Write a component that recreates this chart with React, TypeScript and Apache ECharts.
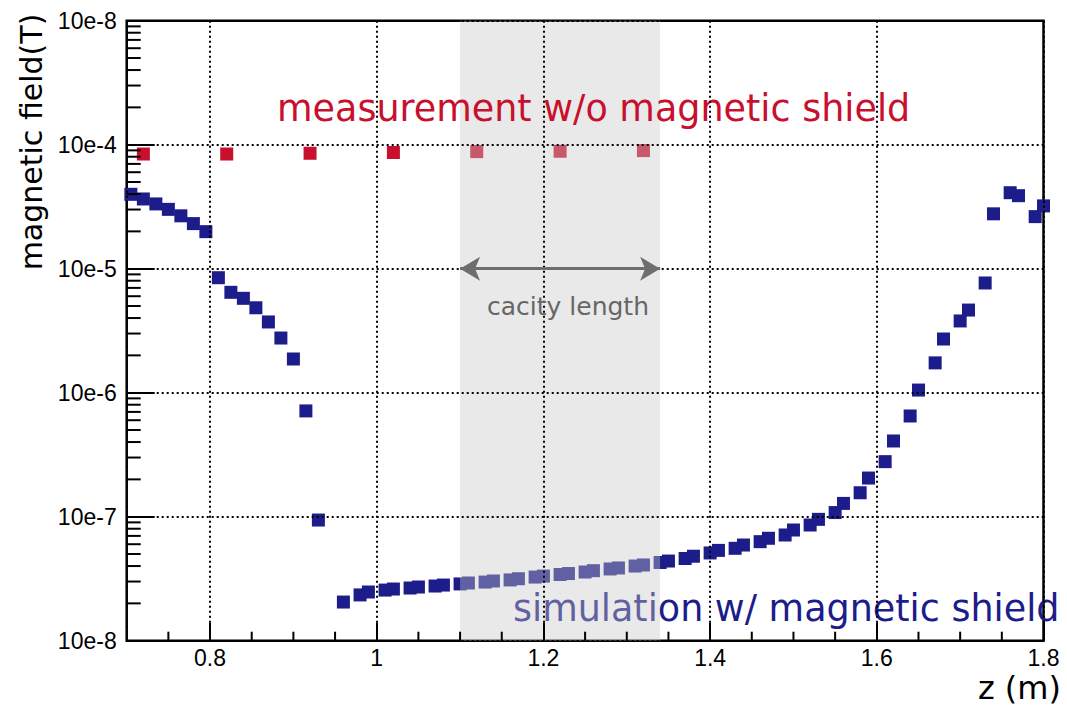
import { useEffect, useRef } from "react";
import * as echarts from "echarts";

// Measured field without shield (z in m, B in T)
const measZ = [0.72, 0.82, 0.92, 1.02, 1.12, 1.22, 1.32];
const measB = [8.41e-5, 8.41e-5, 8.53e-5, 8.65e-5, 8.79e-5, 8.85e-5, 8.96e-5];

// Simulated field with magnetic shield
const simZ = [
  0.705, 0.72, 0.735, 0.75, 0.765, 0.78, 0.795, 0.81, 0.825, 0.84, 0.855, 0.87,
  0.885, 0.9, 0.915, 0.93,
  0.96, 0.98, 0.99, 1.01, 1.02, 1.04, 1.05, 1.07, 1.08, 1.1, 1.11, 1.13, 1.14,
  1.16, 1.17, 1.19, 1.2, 1.22, 1.23, 1.25, 1.26, 1.28, 1.29, 1.31, 1.32, 1.34,
  1.35, 1.37, 1.38, 1.4, 1.41, 1.43, 1.44, 1.46, 1.47, 1.49, 1.5, 1.52, 1.53,
  1.55, 1.56, 1.58, 1.59, 1.61, 1.62, 1.64, 1.65, 1.67, 1.68, 1.7, 1.71, 1.73,
  1.74, 1.76, 1.77, 1.79, 1.8,
];
const simB = [
  3.98e-5, 3.65e-5, 3.33e-5, 3.01e-5, 2.67e-5, 2.31e-5, 1.99e-5, 8.46e-6,
  6.45e-6, 5.77e-6, 4.84e-6, 3.72e-6, 2.76e-6, 1.87e-6, 7.13e-7, 9.4e-8,
  2.05e-8, 2.34e-8, 2.47e-8, 2.56e-8, 2.61e-8, 2.66e-8, 2.71e-8, 2.76e-8,
  2.81e-8, 2.87e-8, 2.92e-8, 2.97e-8, 3.03e-8, 3.09e-8, 3.16e-8, 3.26e-8,
  3.32e-8, 3.42e-8, 3.48e-8, 3.58e-8, 3.67e-8, 3.79e-8, 3.86e-8, 4.0e-8,
  4.08e-8, 4.27e-8, 4.39e-8, 4.6e-8, 4.8e-8, 5.1e-8, 5.35e-8, 5.56e-8,
  5.91e-8, 6.29e-8, 6.7e-8, 7.12e-8, 7.81e-8, 8.57e-8, 9.52e-8, 1.08e-7,
  1.28e-7, 1.56e-7, 2.05e-7, 2.78e-7, 4.08e-7, 6.49e-7, 1.05e-6, 1.74e-6,
  2.71e-6, 3.79e-6, 4.64e-6, 7.67e-6, 2.77e-5, 4.1e-5, 3.88e-5, 2.63e-5,
  3.21e-5,
];

// Cavity extent along z
const cavityRange = [1.1, 1.34];

// Axis tick labels and minor tick positions
const yTickLabels = ["10e-8", "10e-7", "10e-6", "10e-5", "10e-4", "10e-8"];
const xMinorTicks = [
  0.75, 0.85, 0.9, 0.95, 1.05, 1.1, 1.15, 1.25, 1.3, 1.35, 1.45, 1.5, 1.55,
  1.65, 1.7, 1.75,
];
const yMinorMantissas = [2, 3, 4, 5, 6, 7, 8, 9];
const yDecades = [-8, -7, -6, -5, -4];

const X_MIN = 0.7;
const X_MAX = 1.8;
const Y_MIN = 1e-8;
const Y_MAX = 1e-3;

const BLUE = "#1c1c8a";
const RED = "#c8102e";
const SANS = "DejaVu Sans";
const TICK_FONT = "Liberation Sans";
const DOTTED = { color: "#000", width: 2, type: [2, 3] };

export default function App() {
  const ref = useRef<HTMLDivElement>(null);

  useEffect(() => {
    if (!ref.current) return;
    const chart = echarts.init(ref.current, null, { renderer: "svg" });

    const yMinorValues: number[][] = [];
    yDecades.forEach((d) =>
      yMinorMantissas.forEach((m) => yMinorValues.push([X_MIN, m * Math.pow(10, d)]))
    );

    const option: any = {
      animation: false,
      grid: {
        left: 126.7,
        right: 23.5,
        top: 20.7,
        bottom: 70.3,
        show: true,
        borderColor: "#000",
        borderWidth: 2.5,
        backgroundColor: "transparent",
      },
      xAxis: {
        type: "value",
        min: X_MIN,
        max: X_MAX,
        z: 3.5,
        axisLine: { show: false },
        axisTick: { inside: true, length: 18, lineStyle: { color: "#000", width: 2 } },
        axisLabel: {
          showMinLabel: false,
          color: "#000",
          fontSize: 23,
          fontFamily: TICK_FONT,
          margin: 6,
        },
        splitLine: { show: true, lineStyle: DOTTED },
      },
      yAxis: {
        type: "log",
        logBase: 10,
        min: Y_MIN,
        max: Y_MAX,
        z: 3.5,
        axisLine: { show: false },
        axisTick: { inside: true, length: 28, lineStyle: { color: "#000", width: 2 } },
        axisLabel: {
          color: "#000",
          fontSize: 23,
          fontFamily: TICK_FONT,
          margin: 10,
          formatter: (v: number) => yTickLabels[Math.round(Math.log10(v)) + 8] ?? "",
        },
        splitLine: { show: true, lineStyle: DOTTED },
      },
      series: [
        {
          name: "simulation",
          type: "scatter",
          symbol: "rect",
          symbolSize: 13,
          z: 2,
          silent: true,
          itemStyle: { color: BLUE, opacity: 1 },
          data: simZ.map((z, i) => [z, simB[i]]),
        },
        {
          name: "measurement",
          type: "scatter",
          symbol: "rect",
          symbolSize: 13,
          z: 2,
          silent: true,
          itemStyle: { color: RED, opacity: 1 },
          data: measZ.map((z, i) => [z, measB[i]]),
          markLine: {
            silent: true,
            symbol: ["arrow", "arrow"],
            symbolSize: [18, 20],
            label: { show: false },
            emphasis: { disabled: true },
            lineStyle: { color: "#6e6e6e", width: 3, type: "solid" },
            data: [[{ coord: [cavityRange[0], 1e-5] }, { coord: [cavityRange[1], 1e-5] }]],
          },
        },
        {
          name: "cavity",
          type: "custom",
          z: 3,
          silent: true,
          clip: false,
          encode: { x: [0, 2], y: [1, 3] },
          data: [[cavityRange[0], Y_MAX, cavityRange[1], Y_MIN]],
          renderItem: (_p: any, api: any) => {
            const a = api.coord([api.value(0), api.value(1)]);
            const b = api.coord([api.value(2), api.value(3)]);
            return {
              type: "rect",
              shape: { x: a[0], y: a[1], width: b[0] - a[0], height: b[1] - a[1] },
              style: { fill: "rgba(200,200,200,0.4)" },
            };
          },
        },
        {
          name: "xMinor",
          type: "custom",
          z: 3.5,
          silent: true,
          clip: false,
          data: xMinorTicks.map((x) => [x, Y_MIN]),
          renderItem: (_p: any, api: any) => {
            const p = api.coord([api.value(0), api.value(1)]);
            return {
              type: "line",
              shape: { x1: p[0], y1: p[1], x2: p[0], y2: p[1] - 9 },
              style: { stroke: "#000", lineWidth: 2 },
            };
          },
        },
        {
          name: "yMinor",
          type: "custom",
          z: 3.5,
          silent: true,
          clip: false,
          data: yMinorValues,
          renderItem: (_p: any, api: any) => {
            const p = api.coord([api.value(0), api.value(1)]);
            return {
              type: "line",
              shape: { x1: p[0], y1: p[1], x2: p[0] + 14, y2: p[1] },
              style: { stroke: "#000", lineWidth: 2 },
            };
          },
        },
      ],
      graphic: [
        {
          type: "text",
          z: 1,
          x: 513,
          y: 608,
          silent: true,
          style: {
            text: "simulation w/ magnetic shield",
            fill: BLUE,
            fontSize: 36.5,
            fontFamily: SANS,
            align: "left",
            verticalAlign: "middle",
          },
        },
        {
          type: "text",
          z: 3.2,
          x: 277,
          y: 108,
          silent: true,
          style: {
            text: "measurement w/o magnetic shield",
            fill: RED,
            fontSize: 36.5,
            fontFamily: SANS,
            align: "left",
            verticalAlign: "middle",
          },
        },
        {
          type: "text",
          z: 4,
          x: 568,
          y: 306,
          silent: true,
          style: {
            text: "cacity length",
            fill: "#666",
            fontSize: 25,
            fontFamily: SANS,
            align: "center",
            verticalAlign: "middle",
          },
        },
        {
          type: "text",
          z: 4,
          x: 31,
          y: 142,
          rotation: Math.PI / 2,
          silent: true,
          style: {
            text: "magnetic field(T)",
            fill: "#000",
            fontSize: 30,
            fontFamily: SANS,
            align: "center",
            verticalAlign: "middle",
          },
        },
        {
          type: "text",
          z: 4,
          x: 1061,
          y: 688,
          silent: true,
          style: {
            text: "z (m)",
            fill: "#000",
            fontSize: 32,
            fontFamily: SANS,
            align: "right",
            verticalAlign: "middle",
          },
        },
      ],
    };

    chart.setOption(option);
    return () => chart.dispose();
  }, []);

  return (
    <div
      ref={ref}
      style={{ position: "absolute", left: 0, top: 0, width: 1067, height: 711 }}
    />
  );
}
